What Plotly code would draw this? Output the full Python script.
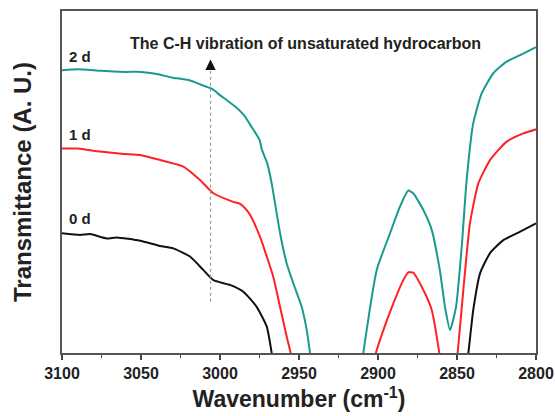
import plotly.graph_objects as go

# ---- data ----
wn_2d = [3100, 3090, 3075, 3060, 3050, 3040, 3030, 3020, 3010, 3005, 3000, 2990, 2985, 2980,
         2975, 2973.6, 2970, 2967.3, 2962, 2957.8, 2953.6, 2948.3, 2945.1, 2943, 2940.5, 2930,
         2920, 2911.5, 2909.3, 2900.8, 2892.4, 2886.1, 2880.8, 2877.7, 2871.3, 2866, 2860.8,
         2857.6, 2854.4, 2850.6, 2847, 2843.9, 2839.7, 2834.4, 2827, 2818.6, 2810, 2800]
t_2d = [82.7, 83.0, 82.5, 82.2, 82.2, 81.6, 80.5, 79.8, 78.1, 77.2, 75.4, 71.9, 69.6, 66.1,
        62.3, 59.6, 55.3, 49.6, 35.1, 26.2, 20.4, 13.5, 6.7, 0, -8, -30,
        -30, -8, 0, 24.3, 35.0, 42.8, 47.5, 46.7, 41.8, 36.0, 24.0,
        13.5, 6.7, 13.5, 31.1, 50.6, 67.2, 75.9, 81.8, 85.2, 87.1, 89.4]

wn_1d = [3100, 3090, 3076, 3061, 3050.6, 3033.7, 3023.2, 3012.7, 3004.2, 2991.6, 2987.3, 2983.1,
         2981, 2974.7, 2970.4, 2966.3, 2962, 2957.8, 2955.3, 2953, 2945, 2905, 2903, 2901.3,
         2896.6, 2890.3, 2884, 2880.8, 2877.7, 2871.3, 2866, 2861.2, 2859, 2855, 2851.5, 2849.6,
         2846, 2841.8, 2836.5, 2829.1, 2818.6, 2808, 2800]
t_1d = [59.8, 59.8, 58.9, 58.2, 57.9, 55.9, 54.5, 50.6, 46.7, 44.2, 43.6, 41.8,
        40.4, 34.0, 28.2, 22.3, 13.5, 4.8, 0, -8, -30, -30, -8, 0,
        6.7, 14.5, 21.3, 23.6, 23.5, 18.4, 12.6, 0, -8, -20, -8, 0,
        18.4, 37.9, 49.6, 56.4, 61.8, 64.2, 65.4]

wn_0d = [3100, 3088.6, 3082.3, 3071.7, 3065.4, 3050.6, 3038, 3029.6, 3019, 3010.6, 3004.2, 2993.7,
         2985.2, 2976.8, 2970.4, 2967.3, 2965, 2955, 2850, 2845, 2842.8, 2839.7, 2835.4, 2829.1,
         2820.7, 2810, 2800]
t_0d = [35.0, 34.5, 34.8, 33.5, 33.8, 32.8, 31.3, 30.6, 28.2, 24.3, 21.3, 19.9,
        17.9, 13.5, 7.7, 0, -8, -30, -30, -8, 0, 12.6, 23.3, 29.2,
        33.0, 35.5, 37.9]

series_names = ["0 d", "1 d", "2 d"]
series_colors = ["#111111", "#ff2222", "#1a9a8e"]
label_x = [3088.6, 3088.6, 3088.6]
label_y = [39.2, 64.0, 86.8]

marker_x = 3006
marker_y0 = 15
marker_y1 = 82.5
arrow_tip_y = 85.8
note_text = "The C-H vibration of unsaturated hydrocarbon"
note_x = 2945.6
note_y = 90.6

x_ticks = [3100, 3050, 3000, 2950, 2900, 2850, 2800]

FONT = "Liberation Sans, Arial, sans-serif"

fig = go.Figure()
for wn, t, name, col in [(wn_0d, t_0d, series_names[0], series_colors[0]),
                         (wn_1d, t_1d, series_names[1], series_colors[1]),
                         (wn_2d, t_2d, series_names[2], series_colors[2])]:
    fig.add_trace(go.Scatter(x=wn, y=t, mode="lines", name=name,
                             line=dict(color=col, width=2, shape="spline", smoothing=0.5),
                             showlegend=False))

# dotted marker line
fig.add_shape(type="line", x0=marker_x, x1=marker_x, y0=marker_y0, y1=marker_y1,
              xref="x", yref="y", line=dict(color="#999999", width=1.2, dash="dot"))

# arrow head
fig.add_annotation(x=marker_x, y=arrow_tip_y, ax=marker_x, ay=marker_y1,
                   xref="x", yref="y", axref="x", ayref="y",
                   showarrow=True, arrowhead=2, arrowsize=1.6, arrowwidth=1.3,
                   arrowcolor="#111111", text="")

fig.add_annotation(x=note_x, y=note_y, xref="x", yref="y", text="<b>" + note_text + "</b>",
                   showarrow=False, font=dict(family=FONT, size=16, color="#222222"))

for nm, lx, ly in zip(series_names, label_x, label_y):
    fig.add_annotation(x=lx, y=ly, xref="x", yref="y", text="<b>" + nm + "</b>",
                       showarrow=False, font=dict(family=FONT, size=15, color="#222222"))

fig.update_xaxes(range=[3100, 2800], tickvals=x_ticks, ticktext=[f"<b>{v}</b>" for v in x_ticks],
                 ticks="outside", ticklen=5, tickwidth=1.5, tickcolor="#444444",
                 minor=dict(ticks="outside", dtick=25, ticklen=3, tickwidth=1.2, tickcolor="#444444"),
                 showline=True, linecolor="#555555", linewidth=1.8, mirror=True,
                 showgrid=False, zeroline=False, automargin=False,
                 tickfont=dict(family=FONT, size=16, color="#222222"),
                 title=dict(text="<b>Wavenumber (cm<sup>-1</sup>)</b>", standoff=10,
                            font=dict(family=FONT, size=23, color="#222222")))
fig.update_yaxes(range=[0, 100], showticklabels=False, ticks="",
                 showline=True, linecolor="#555555", linewidth=1.8, mirror=True,
                 showgrid=False, zeroline=False, automargin=False,
                 title=dict(text="<b>Transmittance (A. U.)</b>", standoff=22,
                            font=dict(family=FONT, size=24, color="#222222")))

fig.update_layout(width=555, height=416, margin=dict(l=62, r=19, t=11, b=63),
                  plot_bgcolor="white", paper_bgcolor="white")

fig.write_html("out.html")
